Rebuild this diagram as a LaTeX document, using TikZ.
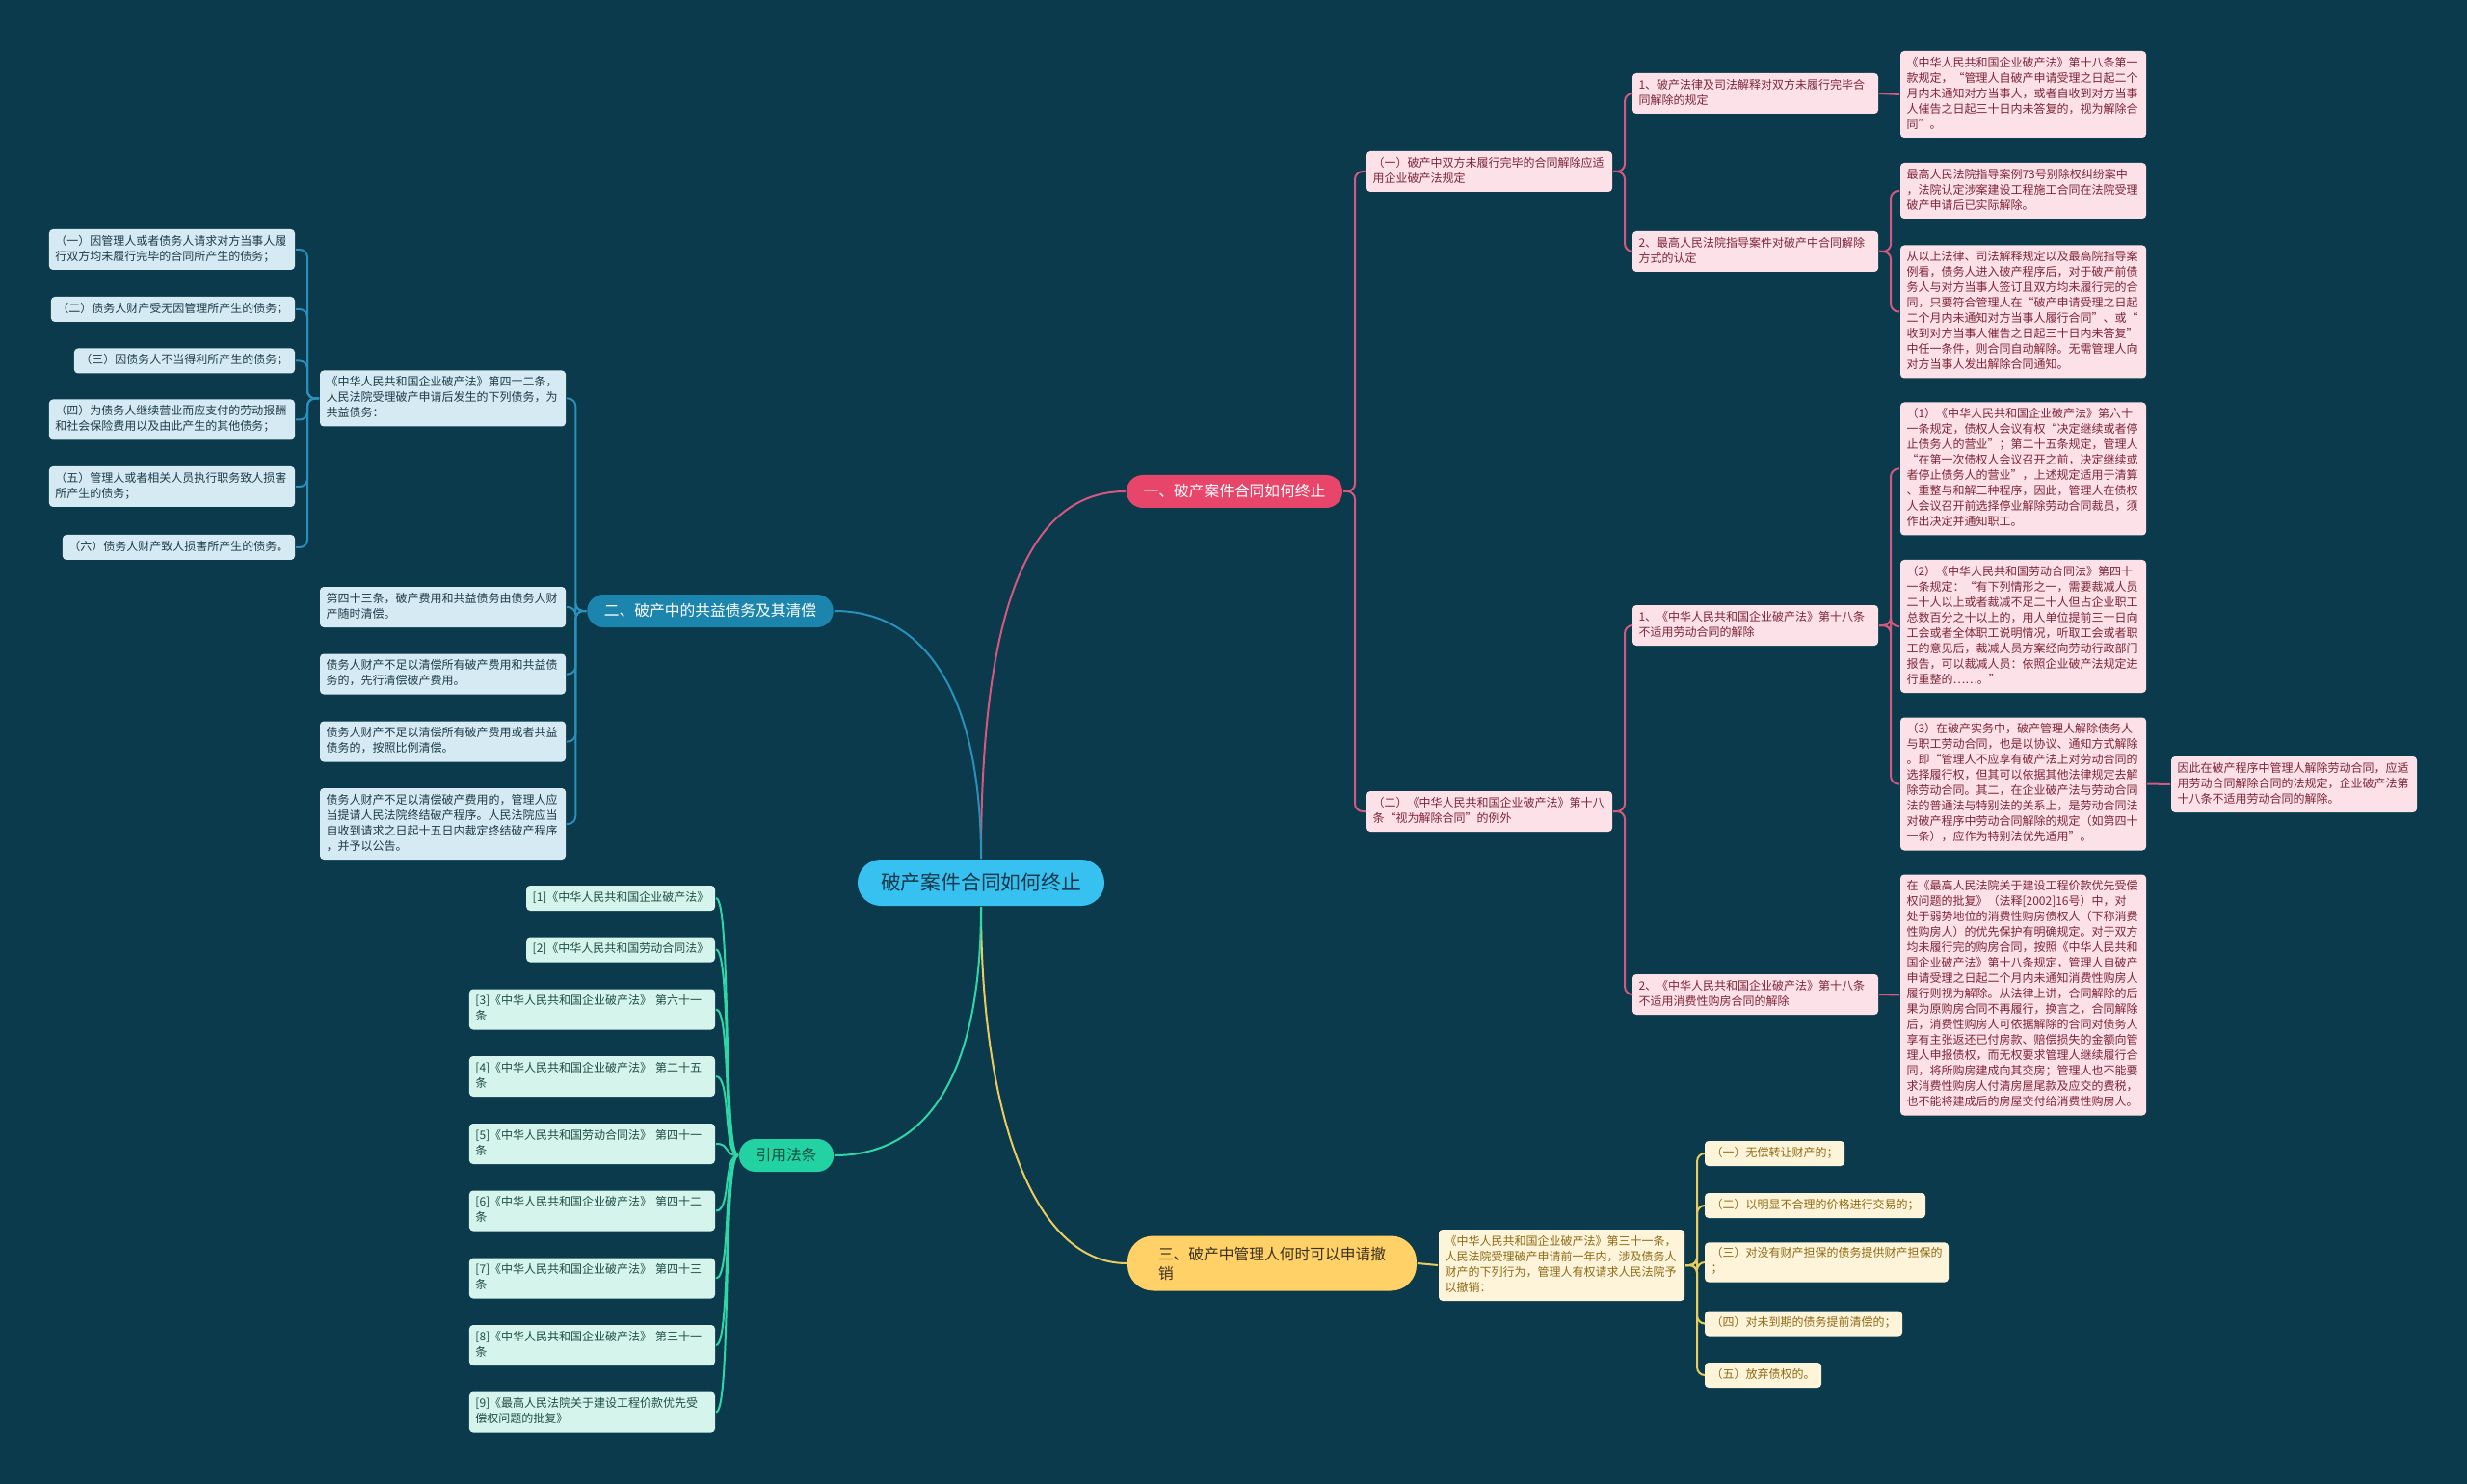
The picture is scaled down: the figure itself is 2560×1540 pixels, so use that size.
\documentclass[tikz,border=0pt]{standalone}
\usepackage{fontspec}
\setmainfont{Noto Sans CJK SC}
\usepackage{xcolor}
\usepackage{tikz}
\usetikzlibrary{calc}

\definecolor{bgc}{HTML}{0A3A4B}
\definecolor{rootc}{HTML}{36C1F0}
\definecolor{roottext}{HTML}{17384A}
\definecolor{pinkc}{HTML}{E8456B}
\definecolor{pinkedgec}{HTML}{D4587F}
\definecolor{pinkfill}{HTML}{FCE2E8}
\definecolor{pinktext}{HTML}{7E2538}
\definecolor{bluec}{HTML}{1C85AE}
\definecolor{blueedgec}{HTML}{2A8FBA}
\definecolor{bluefill}{HTML}{D5EAF2}
\definecolor{bluetext}{HTML}{1E3C4A}
\definecolor{yellowc}{HTML}{FFD166}
\definecolor{yellowedgec}{HTML}{EACB60}
\definecolor{yellowfill}{HTML}{FEF4DA}
\definecolor{yellowtext}{HTML}{8F6A14}
\definecolor{yellowtitle}{HTML}{3A3220}
\definecolor{greenc}{HTML}{23D2A2}
\definecolor{greenedgec}{HTML}{2ED6A8}
\definecolor{greenfill}{HTML}{D5F5EC}
\definecolor{greentext}{HTML}{1F4D45}
\definecolor{greentitle}{HTML}{114A3C}

\newcommand{\leaffont}{\fontsize{9pt}{12pt}\selectfont}
\newcommand{\branchfont}{\fontsize{11.8pt}{15pt}\selectfont}
\newcommand{\topicfont}{\fontsize{15.6pt}{19pt}\selectfont}

\begin{document}
\begin{tikzpicture}[
    x=0.75pt, y=-0.75pt,
    line width=1.5pt,
    topic/.style={fill=rootc, text=roottext, rounded corners=18pt, minimum height=36pt, inner xsep=18pt, inner ysep=0pt, font=\topicfont},
    branch/.style={rounded corners=12.7pt, minimum height=25.5pt, inner xsep=13.2pt, inner ysep=0pt, align=left, font=\branchfont},
    leaf/.style={rounded corners=3pt, inner xsep=4.9pt, inner ysep=3.75pt, align=left, font=\leaffont, execute at begin node=\strut, execute at end node=\strut},
    wide/.style={text width=181.5pt},
    pinkleaf/.style={leaf, fill=pinkfill, text=pinktext},
    blueleaf/.style={leaf, fill=bluefill, text=bluetext},
    yellowleaf/.style={leaf, fill=yellowfill, text=yellowtext},
    greenleaf/.style={leaf, fill=greenfill, text=greentext},
    pinkedge/.style={draw=pinkedgec, rounded corners=6pt},
    blueedge/.style={draw=blueedgec, rounded corners=6pt},
    yellowedge/.style={draw=yellowedgec, rounded corners=6pt},
    greenedge/.style={draw=greenedgec}
]

    % --- Background ---
    \fill[bgc] (0,0) rectangle (2560,1540);
    \useasboundingbox (0,0) rectangle (2560,1540);

    % --- Topic and branches ---
    \node[topic] (root) at (1018,916) {破产案件合同如何终止};
    \node[branch, fill=pinkc, text=white] (b1) at (1281,510) {一、破产案件合同如何终止};
    \node[branch, fill=bluec, text=white] (b2) at (737,634) {二、破产中的共益债务及其清偿};
    \node[branch, fill=yellowc, text=yellowtitle, minimum height=42.75pt, rounded corners=20pt, inner xsep=24pt] (b3) at (1320,1311) {三、破产中管理人何时可以申请撤\\销};
    \node[branch, fill=greenc, text=greentitle] (b4) at (816,1199) {引用法条};

    % --- Branch one: contracts ---
    \node[pinkleaf, wide, anchor=west] (a1) at (1417,178) {（一）破产中双方未履行完毕的合同解除应适\\用企业破产法规定};
    \node[pinkleaf, wide, anchor=west] (a2) at (1417,842) {（二）《中华人民共和国企业破产法》第十八\\条“视为解除合同”的例外};

    \node[pinkleaf, wide, anchor=west] (a1a) at (1693,97) {1、破产法律及司法解释对双方未履行完毕合\\同解除的规定};
    \node[pinkleaf, wide, anchor=west] (a1b) at (1693,261) {2、最高人民法院指导案件对破产中合同解除\\方式的认定};
    \node[pinkleaf, wide, anchor=west] (a1anote) at (1971,98) {《中华人民共和国企业破产法》第十八条第一\\款规定，“管理人自破产申请受理之日起二个\\月内未通知对方当事人，或者自收到对方当事\\人催告之日起三十日内未答复的，视为解除合\\同”。};
    \node[pinkleaf, wide, anchor=west] (a1bnote1) at (1971,198) {最高人民法院指导案例73号别除权纠纷案中\\，法院认定涉案建设工程施工合同在法院受理\\破产申请后已实际解除。};
    \node[pinkleaf, wide, anchor=west] (a1bnote2) at (1971,323.5) {从以上法律、司法解释规定以及最高院指导案\\例看，债务人进入破产程序后，对于破产前债\\务人与对方当事人签订且双方均未履行完的合\\同，只要符合管理人在“破产申请受理之日起\\二个月内未通知对方当事人履行合同”、或“\\收到对方当事人催告之日起三十日内未答复”\\中任一条件，则合同自动解除。无需管理人向\\对方当事人发出解除合同通知。};

    \node[pinkleaf, wide, anchor=west] (a2a) at (1693,649) {1、《中华人民共和国企业破产法》第十八条\\不适用劳动合同的解除};
    \node[pinkleaf, wide, anchor=west] (a2b) at (1693,1032) {2、《中华人民共和国企业破产法》第十八条\\不适用消费性购房合同的解除};
    \node[pinkleaf, wide, anchor=west] (labour1) at (1971,486.5) {（1）《中华人民共和国企业破产法》第六十\\一条规定，债权人会议有权“决定继续或者停\\止债务人的营业”；第二十五条规定，管理人\\“在第一次债权人会议召开之前，决定继续或\\者停止债务人的营业”，上述规定适用于清算\\、重整与和解三种程序，因此，管理人在债权\\人会议召开前选择停业解除劳动合同裁员，须\\作出决定并通知职工。};
    \node[pinkleaf, wide, anchor=west] (labour2) at (1971,650) {（2）《中华人民共和国劳动合同法》第四十\\一条规定：“有下列情形之一，需要裁减人员\\二十人以上或者裁减不足二十人但占企业职工\\总数百分之十以上的，用人单位提前三十日向\\工会或者全体职工说明情况，听取工会或者职\\工的意见后，裁减人员方案经向劳动行政部门\\报告，可以裁减人员：依照企业破产法规定进\\行重整的……。”};
    \node[pinkleaf, wide, anchor=west] (labour3) at (1971,813.5) {（3）在破产实务中，破产管理人解除债务人\\与职工劳动合同，也是以协议、通知方式解除\\。即“管理人不应享有破产法上对劳动合同的\\选择履行权，但其可以依据其他法律规定去解\\除劳动合同。其二，在企业破产法与劳动合同\\法的普通法与特别法的关系上，是劳动合同法\\对破产程序中劳动合同解除的规定（如第四十\\一条），应作为特别法优先适用”。};
    \node[pinkleaf, wide, anchor=west] (labour3note) at (2252,814) {因此在破产程序中管理人解除劳动合同，应适\\用劳动合同解除合同的法规定，企业破产法第\\十八条不适用劳动合同的解除。};
    \node[pinkleaf, wide, anchor=west] (a2bnote) at (1971,1032.5) {在《最高人民法院关于建设工程价款优先受偿\\权问题的批复》（法释[2002]16号）中，对\\处于弱势地位的消费性购房债权人（下称消费\\性购房人）的优先保护有明确规定。对于双方\\均未履行完的购房合同，按照《中华人民共和\\国企业破产法》第十八条规定，管理人自破产\\申请受理之日起二个月内未通知消费性购房人\\履行则视为解除。从法律上讲，合同解除的后\\果为原购房合同不再履行，换言之，合同解除\\后，消费性购房人可依据解除的合同对债务人\\享有主张返还已付房款、赔偿损失的金额向管\\理人申报债权，而无权要求管理人继续履行合\\同，将所购房建成向其交房；管理人也不能要\\求消费性购房人付清房屋尾款及应交的费税，\\也不能将建成后的房屋交付给消费性购房人。};

    % --- Branch two: common-benefit debts ---
    \node[blueleaf, wide, anchor=west] (law42) at (331,413.5) {《中华人民共和国企业破产法》第四十二条，\\人民法院受理破产申请后发生的下列债务，为\\共益债务：};
    \node[blueleaf, wide, anchor=west] (law43) at (331,630) {第四十三条，破产费用和共益债务由债务人财\\产随时清偿。};
    \node[blueleaf, wide, anchor=west] (pay1) at (331,699.5) {债务人财产不足以清偿所有破产费用和共益债\\务的，先行清偿破产费用。};
    \node[blueleaf, wide, anchor=west] (pay2) at (331,769.5) {债务人财产不足以清偿所有破产费用或者共益\\债务的，按照比例清偿。};
    \node[blueleaf, wide, anchor=west] (pay3) at (331,855) {债务人财产不足以清偿破产费用的，管理人应\\当提请人民法院终结破产程序。人民法院应当\\自收到请求之日起十五日内裁定终结破产程序\\，并予以公告。};

    \node[blueleaf, wide, anchor=east] (debt1) at (307,259) {（一）因管理人或者债务人请求对方当事人履\\行双方均未履行完毕的合同所产生的债务；};
    \node[blueleaf, anchor=east] (debt2) at (307,321) {（二）债务人财产受无因管理所产生的债务；};
    \node[blueleaf, anchor=east] (debt3) at (307,374.5) {（三）因债务人不当得利所产生的债务；};
    \node[blueleaf, wide, anchor=east] (debt4) at (307,435.5) {（四）为债务人继续营业而应支付的劳动报酬\\和社会保险费用以及由此产生的其他债务；};
    \node[blueleaf, wide, anchor=east] (debt5) at (307,505) {（五）管理人或者相关人员执行职务致人损害\\所产生的债务；};
    \node[blueleaf, anchor=east] (debt6) at (307,568) {（六）债务人财产致人损害所产生的债务。};

    % --- Branch three: revocation ---
    \node[yellowleaf, wide, anchor=west] (law31) at (1492,1313) {《中华人民共和国企业破产法》第三十一条，\\人民法院受理破产申请前一年内，涉及债务人\\财产的下列行为，管理人有权请求人民法院予\\以撤销：};
    \node[yellowleaf, anchor=west] (rev1) at (1768,1197) {（一）无偿转让财产的；};
    \node[yellowleaf, anchor=west] (rev2) at (1768,1251) {（二）以明显不合理的价格进行交易的；};
    \node[yellowleaf, anchor=west] (rev3) at (1768,1310) {（三）对没有财产担保的债务提供财产担保的\\；};
    \node[yellowleaf, anchor=west] (rev4) at (1768,1373.5) {（四）对未到期的债务提前清偿的；};
    \node[yellowleaf, anchor=west] (rev5) at (1768,1427) {（五）放弃债权的。};

    % --- Branch four: cited laws ---
    \node[greenleaf, anchor=east] (cite1) at (743,932) {[1]《中华人民共和国企业破产法》};
    \node[greenleaf, anchor=east] (cite2) at (743,985.5) {[2]《中华人民共和国劳动合同法》};
    \node[greenleaf, wide, anchor=east] (cite3) at (743,1047.5) {[3]《中华人民共和国企业破产法》 第六十一\\条};
    \node[greenleaf, wide, anchor=east] (cite4) at (743,1117) {[4]《中华人民共和国企业破产法》 第二十五\\条};
    \node[greenleaf, wide, anchor=east] (cite5) at (743,1187) {[5]《中华人民共和国劳动合同法》 第四十一\\条};
    \node[greenleaf, wide, anchor=east] (cite6) at (743,1256.5) {[6]《中华人民共和国企业破产法》 第四十二\\条};
    \node[greenleaf, wide, anchor=east] (cite7) at (743,1326.5) {[7]《中华人民共和国企业破产法》 第四十三\\条};
    \node[greenleaf, wide, anchor=east] (cite8) at (743,1396) {[8]《中华人民共和国企业破产法》 第三十一\\条};
    \node[greenleaf, wide, anchor=east] (cite9) at (743,1465.5) {[9]《最高人民法院关于建设工程价款优先受\\偿权问题的批复》};

    % --- Topic to branches ---
    \draw[pinkedge] (root.north) .. controls (1018,600) and (1080,510) .. (b1.west);
    \draw[blueedge] (root.north) .. controls (1018,720) and (960,634) .. (b2.east);
    \draw[yellowedge] (root.south) .. controls (1018,1150) and (1070,1311) .. (b3.west);
    \draw[greenedge] (root.south) .. controls (1018,1120) and (960,1199) .. (b4.east);

    % Branch one connections
    \draw[pinkedge] (b1.east) -- ++(12,0) |- (a1.west);
    \draw[pinkedge] (b1.east) -- ++(12,0) |- (a2.west);
    \draw[pinkedge] (a1.east) -- ++(12,0) |- (a1a.west);
    \draw[pinkedge] (a1.east) -- ++(12,0) |- (a1b.west);
    \draw[pinkedge] (a1a.east) -- (a1anote.west);
    \draw[pinkedge] (a1b.east) -- ++(12,0) |- (a1bnote1.west);
    \draw[pinkedge] (a1b.east) -- ++(12,0) |- (a1bnote2.west);
    \draw[pinkedge] (a2.east) -- ++(12,0) |- (a2a.west);
    \draw[pinkedge] (a2.east) -- ++(12,0) |- (a2b.west);
    \draw[pinkedge] (a2a.east) -- ++(12,0) |- (labour1.west);
    \draw[pinkedge] (a2a.east) -- ++(12,0) |- (labour2.west);
    \draw[pinkedge] (a2a.east) -- ++(12,0) |- (labour3.west);
    \draw[pinkedge] (labour3.east) -- (labour3note.west);
    \draw[pinkedge] (a2b.east) -- (a2bnote.west);

    % Branch two connections
    \draw[blueedge] (b2.west) -- ++(-11,0) |- (law42.east);
    \draw[blueedge] (b2.west) -- ++(-11,0) |- (law43.east);
    \draw[blueedge] (b2.west) -- ++(-11,0) |- (pay1.east);
    \draw[blueedge] (b2.west) -- ++(-11,0) |- (pay2.east);
    \draw[blueedge] (b2.west) -- ++(-11,0) |- (pay3.east);
    \draw[blueedge] (law42.west) -- ++(-12,0) |- (debt1.east);
    \draw[blueedge] (law42.west) -- ++(-12,0) |- (debt2.east);
    \draw[blueedge] (law42.west) -- ++(-12,0) |- (debt3.east);
    \draw[blueedge] (law42.west) -- ++(-12,0) |- (debt4.east);
    \draw[blueedge] (law42.west) -- ++(-12,0) |- (debt5.east);
    \draw[blueedge] (law42.west) -- ++(-12,0) |- (debt6.east);

    % Branch three connections
    \draw[yellowedge] (b3.east) -- (law31.west);
    \draw[yellowedge] (law31.east) -- ++(12,0) |- (rev1.west);
    \draw[yellowedge] (law31.east) -- ++(12,0) |- (rev2.west);
    \draw[yellowedge] (law31.east) -- ++(12,0) |- (rev3.west);
    \draw[yellowedge] (law31.east) -- ++(12,0) |- (rev4.west);
    \draw[yellowedge] (law31.east) -- ++(12,0) |- (rev5.west);

    % Branch four connections
    \draw[greenedge] (b4.west) .. controls ($(b4.west)+(-16,0)$) and ($(cite1.east)+(16,0)$) .. (cite1.east);
    \draw[greenedge] (b4.west) .. controls ($(b4.west)+(-16,0)$) and ($(cite2.east)+(16,0)$) .. (cite2.east);
    \draw[greenedge] (b4.west) .. controls ($(b4.west)+(-16,0)$) and ($(cite3.east)+(16,0)$) .. (cite3.east);
    \draw[greenedge] (b4.west) .. controls ($(b4.west)+(-16,0)$) and ($(cite4.east)+(16,0)$) .. (cite4.east);
    \draw[greenedge] (b4.west) .. controls ($(b4.west)+(-16,0)$) and ($(cite5.east)+(16,0)$) .. (cite5.east);
    \draw[greenedge] (b4.west) .. controls ($(b4.west)+(-16,0)$) and ($(cite6.east)+(16,0)$) .. (cite6.east);
    \draw[greenedge] (b4.west) .. controls ($(b4.west)+(-16,0)$) and ($(cite7.east)+(16,0)$) .. (cite7.east);
    \draw[greenedge] (b4.west) .. controls ($(b4.west)+(-16,0)$) and ($(cite8.east)+(16,0)$) .. (cite8.east);
    \draw[greenedge] (b4.west) .. controls ($(b4.west)+(-16,0)$) and ($(cite9.east)+(16,0)$) .. (cite9.east);

\end{tikzpicture}
\end{document}
